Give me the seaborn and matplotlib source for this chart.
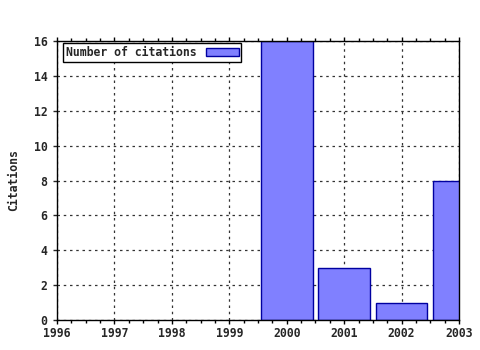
import matplotlib
matplotlib.use("Agg")
import matplotlib.pyplot as plt
import seaborn as sns
import pandas as pd
from matplotlib.ticker import MultipleLocator

years = [2000, 2001, 2002, 2003]
citations = [16, 3, 1, 8]
xticks = [1996, 1997, 1998, 1999, 2000, 2001, 2002, 2003]
yticks = [0, 2, 4, 6, 8, 10, 12, 14, 16]

sns.set_style("ticks")
plt.rcParams['font.family'] = ['DejaVu Sans Mono']
plt.rcParams['font.weight'] = 'bold'
FS = 8.3

df = pd.DataFrame({"year": years, "citations": citations})

fig = plt.figure(figsize=(4.8, 3.5), dpi=100)
ax = fig.add_axes([57/480, 1-320/350, (459-57)/480, (320-41)/350])

sns.barplot(data=df, x="year", y="citations", native_scale=True, width=0.9,
            color="#8080ff", saturation=1, edgecolor="#0000a0", linewidth=1,
            label="Number of citations", ax=ax)

ax.set_xlim(1996, 2003)
ax.set_ylim(0, 16)
ax.set_xticks(xticks)
ax.set_xticklabels([str(t) for t in xticks])
ax.set_yticks(yticks)
ax.xaxis.set_minor_locator(MultipleLocator(0.25))
ax.tick_params(axis='x', which='both', top=True, direction='out', labelsize=FS, pad=2, color='black')
ax.tick_params(axis='x', which='major', length=3, width=1)
ax.tick_params(axis='x', which='minor', length=2, width=1)
ax.tick_params(axis='y', which='major', direction='out', length=3, width=1, labelsize=FS, pad=4, right=False)
ax.grid(True, which='major', linestyle=(0, (2, 3)), color='#333333', linewidth=0.9)
ax.set_axisbelow(True)
for s in ax.spines.values():
    s.set_visible(True)
    s.set_color('black')
    s.set_linewidth(1)
ax.set_xlabel("")
ax.set_ylabel("Citations", fontsize=FS, fontweight='bold', labelpad=9.5)

leg = ax.legend(loc='upper left', bbox_to_anchor=(63/480, 1-43/350), bbox_transform=fig.transFigure,
                markerfirst=False, frameon=True, fancybox=False,
                fontsize=FS, borderpad=0.25, handlelength=2.8, handleheight=0.7,
                borderaxespad=0, handletextpad=0.85)
leg.get_frame().set_edgecolor('black')
leg.get_frame().set_linewidth(1)
leg.get_frame().set_alpha(1)

fig.savefig("out.png", dpi=100)
